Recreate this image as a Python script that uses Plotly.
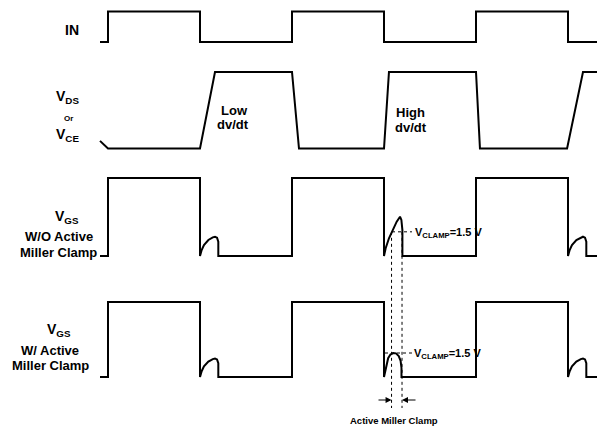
import plotly.graph_objects as go

# time axis in switching periods (edge n at t = n), levels normalised 0 (low) .. 1 (high)
t_start, t_end = 0.913, 6.32

in_t = [t_start, 1, 1, 2, 2, 3, 3, 4, 4, 5, 5, 6, 6, t_end]
in_lvl = [0, 0, 1, 1, 0, 0, 1, 1, 0, 0, 1, 1, 0, 0]

vds_t = [t_start, 1.0, 2.0, 2.163, 3.0, 3.076, 4.0, 4.054, 5.0, 5.043, 5.99, 6.163, t_end]
vds_lvl = [0.1, 0, 0, 1, 1, 0, 0, 1, 1, 0, 0, 1, 1]

# gate ringing after each turn-off edge (offset from edge, level)
small_bump_dt = [0, 0.018, 0.043, 0.091, 0.139, 0.163, 0.185, 0.199, 0.199]
small_bump_lvl = [0, 0.077, 0.141, 0.205, 0.239, 0.247, 0.235, 0.184, 0]

big_bump_dt = [0, 0.018, 0.054, 0.098, 0.138, 0.174, 0.189, 0.2, 0.2]
big_bump_lvl = [0, 0.099, 0.227, 0.342, 0.44, 0.504, 0.462, 0.333, 0]

clamp_bump_dt = [0, 0.011, 0.025, 0.045, 0.07, 0.10, 0.13, 0.16, 0.18, 0.19, 0.19]
clamp_bump_lvl = [0, 0.06, 0.17, 0.25, 0.30, 0.32, 0.315, 0.28, 0.22, 0.12, 0]

clamp_lvl = 0.31          # V_CLAMP = 1.5 V, as fraction of gate swing
clamp_window = [4.082, 4.196]

# lanes: (low y, high y) on the page
lanes = {"IN": (42, 11.5), "VDS": (148.5, 72), "WO": (256, 178), "W": (377, 302)}


def gate_wave(bumps):
    t, l = [t_start, 1, 1, 2], [0, 0, 1, 1]
    edges = [2, 4, 6]
    for k, (e, (bdt, blv)) in enumerate(zip(edges, bumps)):
        t += [e + d for d in bdt]
        l += blv
        if k < 2:
            t += [e + 1, e + 1, e + 2]
            l += [0, 1, 1]
    t.append(t_end)
    l.append(0)
    return t, l


def to_y(lane, lvl):
    lo, hi = lanes[lane]
    return [lo - v * (lo - hi) for v in lvl]


wo_t, wo_lvl = gate_wave([(small_bump_dt, small_bump_lvl), (big_bump_dt, big_bump_lvl),
                          (small_bump_dt, small_bump_lvl)])
w_t, w_lvl = gate_wave([(small_bump_dt, small_bump_lvl), (clamp_bump_dt, clamp_bump_lvl),
                        (small_bump_dt, small_bump_lvl)])

fig = go.Figure()
line = dict(color="black", width=2)
for t, lvl, lane in [(in_t, in_lvl, "IN"), (vds_t, vds_lvl, "VDS"),
                     (wo_t, wo_lvl, "WO"), (w_t, w_lvl, "W")]:
    fig.add_trace(go.Scatter(x=t, y=to_y(lane, lvl), mode="lines", line=line,
                             hoverinfo="skip"))

dot = dict(color="black", width=1, dash="dot")
y_wo_clamp = to_y("WO", [clamp_lvl])[0]
y_w_clamp = to_y("W", [0.32])[0]
# clamp level markers
fig.add_trace(go.Scatter(x=[4.087, 4.304], y=[y_wo_clamp] * 2, mode="lines", line=dot,
                         hoverinfo="skip"))
fig.add_trace(go.Scatter(x=[4.011, 4.304], y=[y_w_clamp] * 2, mode="lines", line=dot,
                         hoverinfo="skip"))
# active miller clamp window
for xv in clamp_window:
    fig.add_trace(go.Scatter(x=[xv, xv], y=[y_wo_clamp, 408], mode="lines", line=dot,
                             hoverinfo="skip"))


def label(x, y, text, size=13, anchor="center"):
    fig.add_annotation(x=x, y=y, text=text, showarrow=False, xanchor=anchor,
                       font=dict(family="Liberation Sans, Arial, sans-serif",
                                 size=size, color="black", weight="bold"))


label(0.609, 30, "IN", 14)
label(0.565, 97, "V<sub>DS</sub>", 14)
label(0.576, 118, "Or", 8)
label(0.565, 135, "V<sub>CE</sub>", 14)
label(0.554, 217, "V<sub>GS</sub>", 14)
label(0.467, 236, "W/O Active")
label(0.467, 252, "Miller Clamp")
label(0.467, 330, "V<sub>GS</sub>", 14)
label(0.370, 350, "W/ Active")
label(0.370, 365, "Miller Clamp")
label(2.37, 110, "Low")
label(2.359, 124, "dv/dt")
label(4.293, 112, "High")
label(4.293, 127, "dv/dt")
label(4.315, y_wo_clamp + 1, "V<sub>CLAMP</sub>=1.5 V", 11, "left")
label(4.304, y_w_clamp + 1, "V<sub>CLAMP</sub>=1.5 V", 11, "left")
label(4.109, 420, "Active Miller Clamp", 9.5)

for head, tail in [(clamp_window[0], 3.924), (clamp_window[1], 4.359)]:
    fig.add_annotation(x=head, y=400, ax=tail, ay=400, axref="x", ayref="y",
                       xref="x", yref="y", text="", showarrow=True,
                       arrowhead=2, arrowsize=1.2, arrowwidth=1, arrowcolor="black")

fig.update_layout(
    width=597, height=430,
    margin=dict(l=0, r=0, t=0, b=0),
    paper_bgcolor="white", plot_bgcolor="white",
    showlegend=False,
    xaxis=dict(range=[-16 / 92, 581 / 92], visible=False),
    yaxis=dict(range=[430, 0], visible=False),
)

# drop the browser's default page margin so the figure sits at the window origin
fig.write_html("out.html", config={"displayModeBar": False},
               post_script="document.body.style.margin='0';document.body.style.overflow='hidden';")
